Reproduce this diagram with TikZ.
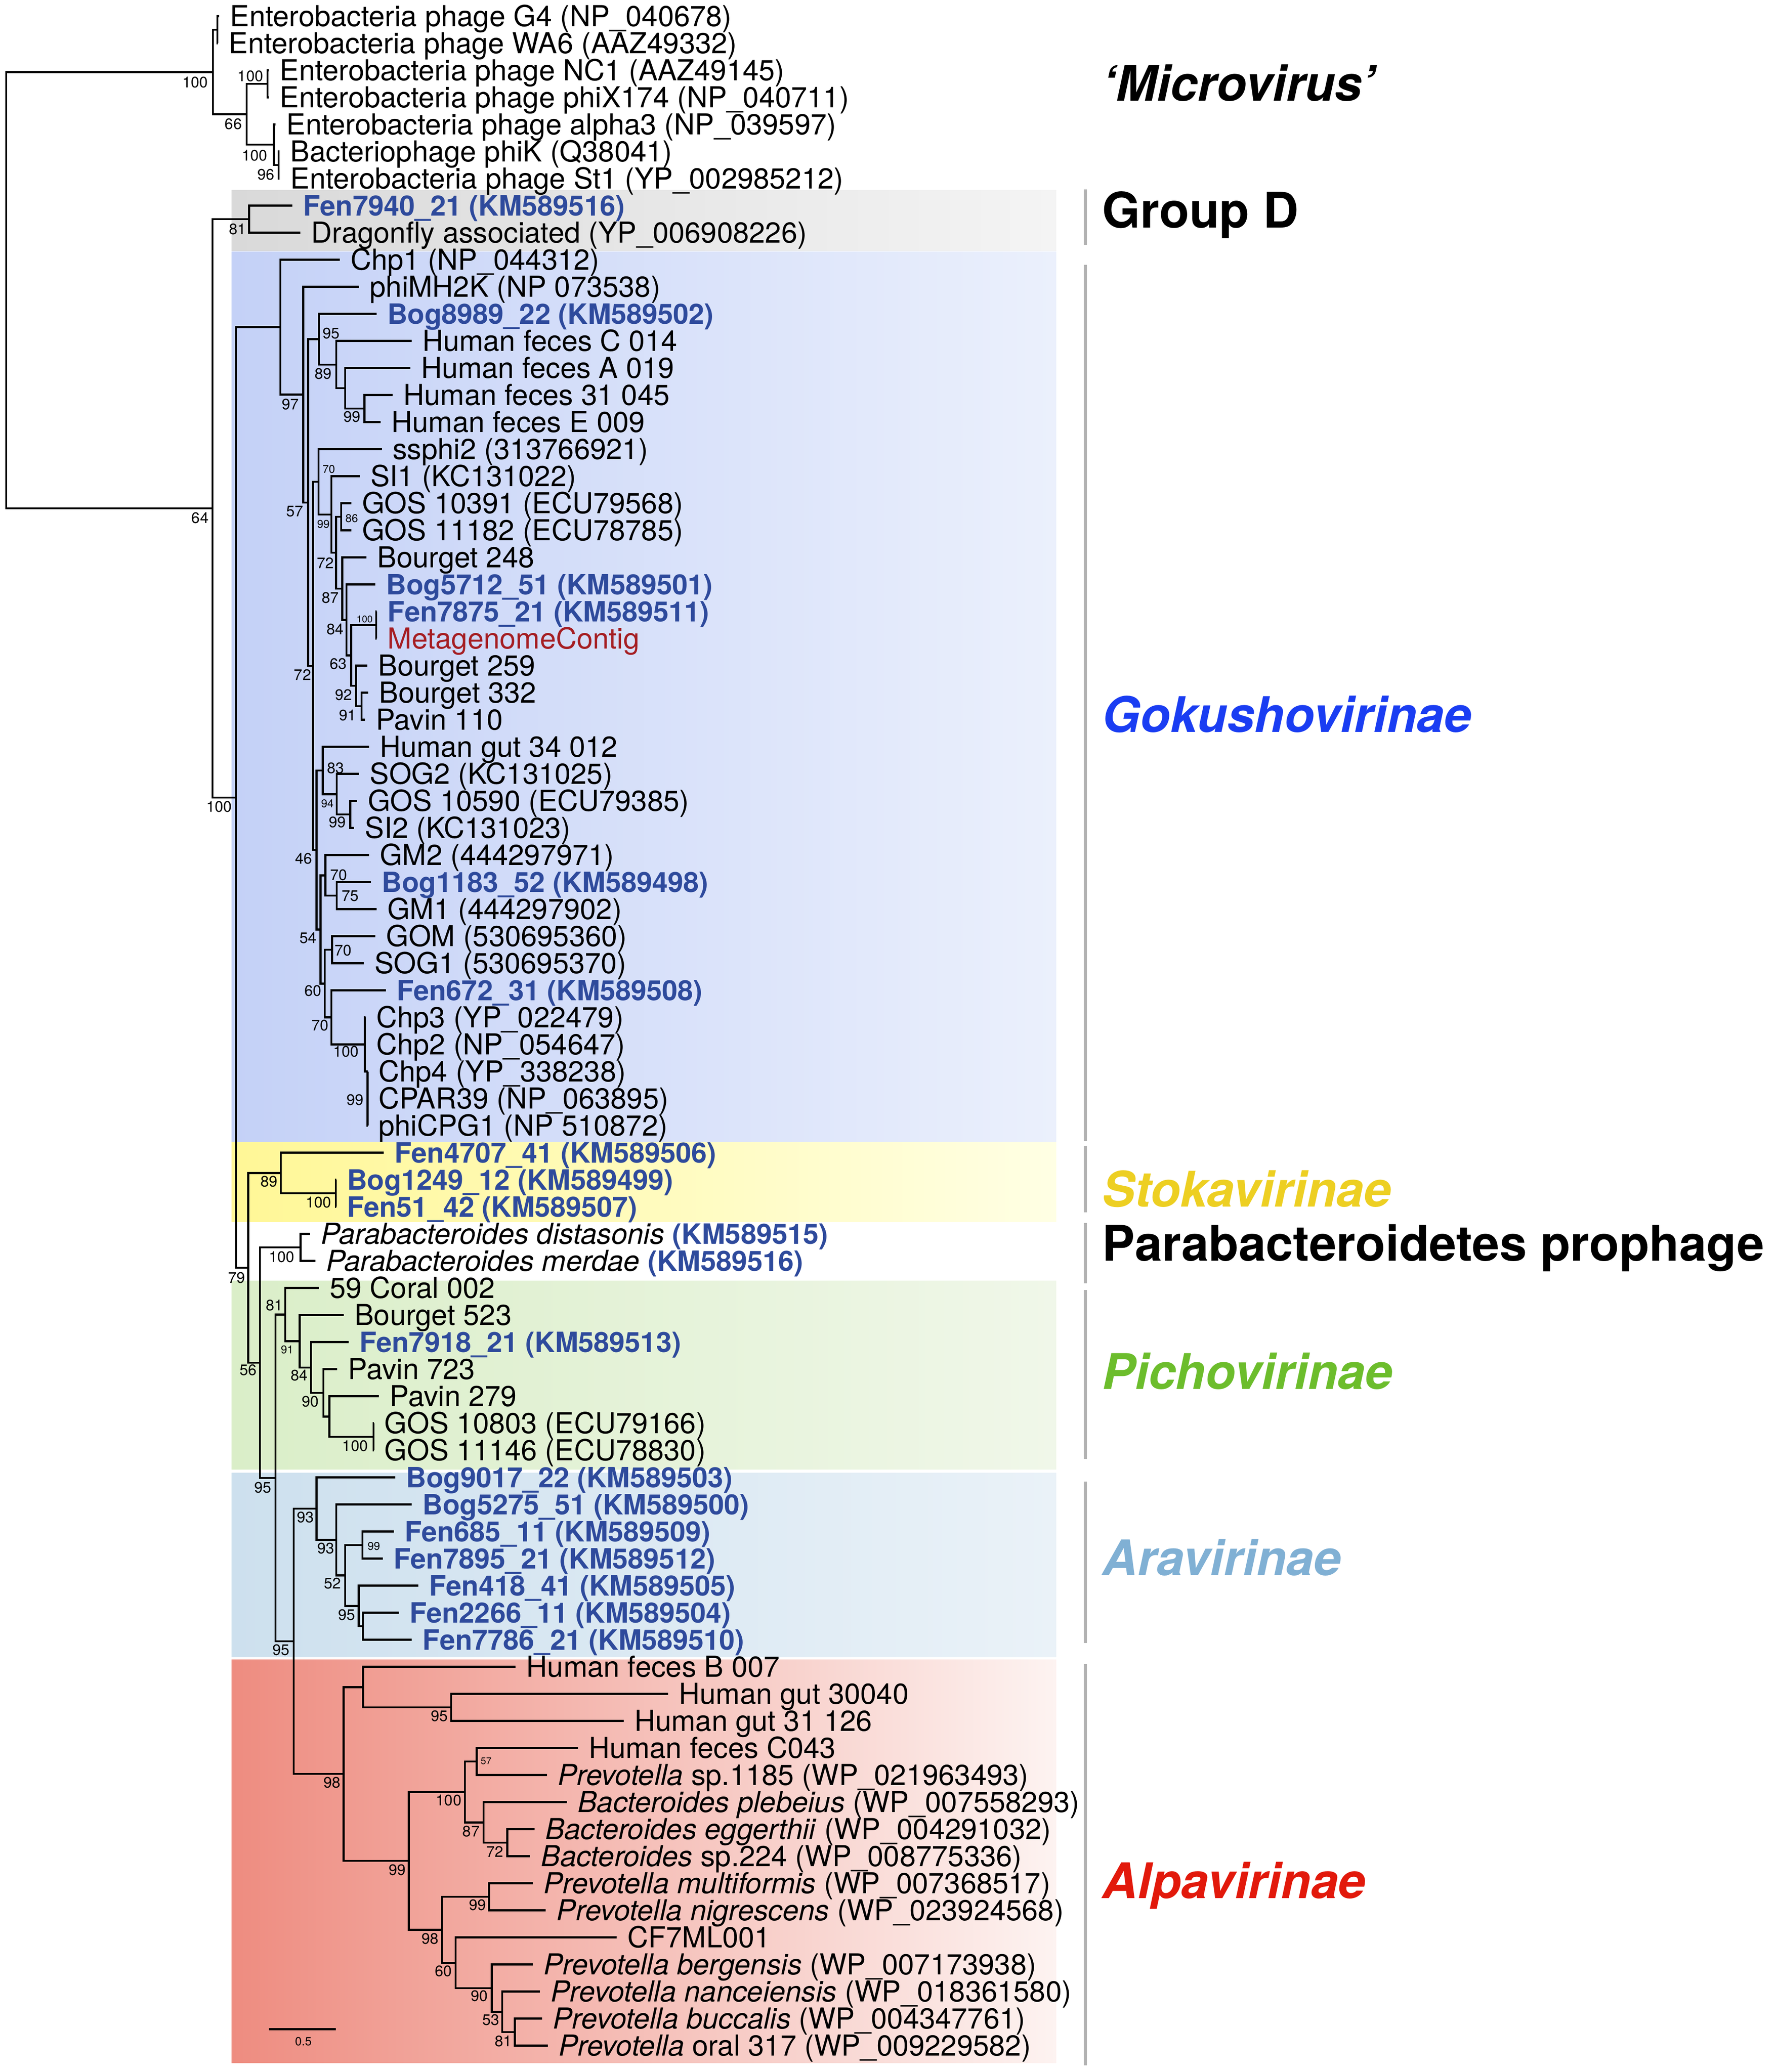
\documentclass[tikz,border=0pt]{standalone}
\usepackage{fontspec}
\setmainfont{TeX Gyre Heros}
\usetikzlibrary{calc}
\definecolor{fenblue}{HTML}{2E4A9C}
\definecolor{metared}{HTML}{A51D22}
\definecolor{gdL}{HTML}{D9D9D9}\definecolor{gdR}{HTML}{F4F4F4}
\definecolor{gkL}{HTML}{C4D1F7}\definecolor{gkR}{HTML}{EBF0FC}
\definecolor{stL}{HTML}{FFF796}\definecolor{stR}{HTML}{FFFFE4}
\definecolor{piL}{HTML}{DAEEC8}\definecolor{piR}{HTML}{F0F7E9}
\definecolor{arL}{HTML}{CDE0EE}\definecolor{arR}{HTML}{EAF2F8}
\definecolor{alL}{HTML}{EE8C80}\definecolor{alR}{HTML}{FDF3F1}
\definecolor{cGoku}{HTML}{1A3DF2}
\definecolor{cStoka}{HTML}{EDCF22}
\definecolor{cPicho}{HTML}{6CBD2C}
\definecolor{cAra}{HTML}{80B0D4}
\definecolor{cAlpa}{HTML}{E2190B}
\definecolor{barGray}{HTML}{B2B2B2}
\newcommand\bluelab[1]{{\fontsize{21.1}{26}\selectfont\bfseries\color{fenblue}#1}}
\newcommand\trnode[4]{%
  \path let \p1=(#3), \p2=(#4) in (#2,{0.5*(\y1+\y2)}) coordinate (#1);
  \draw[branch] (#1) |- (#3);
  \draw[branch] (#1) |- (#4);
}
\newcommand\tleaf[3]{%
  \coordinate (L#1) at (#2,{-(12.2+(#1-1)*20.42)});
  \node[leaflabel] (T#1) at (L#1) {#3};
}
\begin{document}
\begin{tikzpicture}[x=1pt,y=1pt,
  branch/.style={line width=1.5pt},
  leaflabel/.style={anchor=base west,inner sep=0pt,xshift=8pt,yshift=-7.8pt,font=\fontsize{21.8}{26}\selectfont},
  bsl/.style={inner sep=0pt,font=\fontsize{11.5}{13}\selectfont},
  bss/.style={inner sep=0pt,font=\fontsize{8.5}{10}\selectfont},
  bst/.style={inner sep=0pt,font=\fontsize{7.3}{9}\selectfont},
  clade/.style={anchor=base west,inner sep=0pt,font=\fontsize{37}{40}\selectfont\bfseries},
  cbar/.style={line width=2.2pt,draw=barGray}]
\fill[white] (0,0) rectangle (1339,-1563.6);
\path[use as bounding box] (0,0) rectangle (1339,-1563.6);
% backgrounds
\shade[left color=gdL,right color=gdR] (174.7,-143.5) rectangle (797,-189.2);
\shade[left color=gkL,right color=gkR] (174.7,-189.8) rectangle (797,-861.4);
\shade[left color=stL,right color=stR] (174.7,-862) rectangle (797,-922);
\shade[left color=piL,right color=piR] (174.7,-966.4) rectangle (797,-1108.9);
\shade[left color=arL,right color=arR] (174.7,-1111.5) rectangle (797,-1250.4);
\shade[left color=alL,right color=alR] (174.7,-1252.6) rectangle (797,-1556.7);
% leaves
\tleaf{1}{165.5}{Enterobacteria phage G4 (NP\_040678)}
\tleaf{2}{164.5}{Enterobacteria phage WA6 (AAZ49332)}
\tleaf{3}{203}{Enterobacteria phage NC1 (AAZ49145)}
\tleaf{4}{203}{Enterobacteria phage phiX174 (NP\_040711)}
\tleaf{5}{208}{Enterobacteria phage alpha3 (NP\_039597)}
\tleaf{6}{211}{Bacteriophage phiK (Q38041)}
\tleaf{7}{211}{Enterobacteria phage St1 (YP\_002985212)}
\tleaf{8}{220.5}{\bluelab{Fen7940\_21 (KM589516)}}
\tleaf{9}{226.7}{Dragonfly associated (YP\_006908226)}
\tleaf{10}{256.4}{Chp1 (NP\_044312)}
\tleaf{11}{270.9}{phiMH2K (NP 073538)}
\tleaf{12}{284.1}{\bluelab{Bog8989\_22 (KM589502)}}
\tleaf{13}{310.5}{Human feces C 014}
\tleaf{14}{309.5}{Human feces A 019}
\tleaf{15}{296.3}{Human feces 31 045}
\tleaf{16}{287.3}{Human feces E 009}
\tleaf{17}{288.1}{ssphi2 (313766921)}
\tleaf{18}{271.4}{SI1 (KC131022)}
\tleaf{19}{265}{GOS 10391 (ECU79568)}
\tleaf{20}{265}{GOS 11182 (ECU78785)}
\tleaf{21}{276.6}{Bourget 248}
\tleaf{22}{283.3}{\bluelab{Bog5712\_51 (KM589501)}}
\tleaf{23}{284.3}{\bluelab{Fen7875\_21 (KM589511)}}
\tleaf{24}{284.3}{\color{metared}MetagenomeContig}
\tleaf{25}{277.3}{Bourget 259}
\tleaf{26}{278}{Bourget 332}
\tleaf{27}{275.4}{Pavin 110}
\tleaf{28}{278.4}{Human gut 34 012}
\tleaf{29}{270.9}{SOG2 (KC131025)}
\tleaf{30}{269.4}{GOS 10590 (ECU79385)}
\tleaf{31}{267.2}{SI2 (KC131023)}
\tleaf{32}{278.4}{GM2 (444297971)}
\tleaf{33}{279.9}{\bluelab{Bog1183\_52 (KM589498)}}
\tleaf{34}{284.1}{GM1 (444297902)}
\tleaf{35}{283.2}{GOM (530695360)}
\tleaf{36}{274.4}{SOG1 (530695370)}
\tleaf{37}{291.1}{\bluelab{Fen672\_31 (KM589508)}}
\tleaf{38}{275.8}{Chp3 (YP\_022479)}
\tleaf{39}{275.8}{Chp2 (NP\_054647)}
\tleaf{40}{277.5}{Chp4 (YP\_338238)}
\tleaf{41}{277.5}{CPAR39 (NP\_063895)}
\tleaf{42}{277.5}{phiCPG1 (NP 510872)}
\tleaf{43}{289.6}{\bluelab{Fen4707\_41 (KM589506)}}
\tleaf{44}{253.6}{\bluelab{Bog1249\_12 (KM589499)}}
\tleaf{45}{253.6}{\bluelab{Fen51\_42 (KM589507)}}
\tleaf{46}{234}{\textit{Parabacteroides distasonis} \bluelab{(KM589515)}}
\tleaf{47}{238}{\textit{Parabacteroides merdae} \bluelab{(KM589516)}}
\tleaf{48}{240.6}{59 Coral 002}
\tleaf{49}{259.4}{Bourget 523}
\tleaf{50}{263}{\bluelab{Fen7918\_21 (KM589513)}}
\tleaf{51}{254.5}{Pavin 723}
\tleaf{52}{285.9}{Pavin 279}
\tleaf{53}{282}{GOS 10803 (ECU79166)}
\tleaf{54}{282}{GOS 11146 (ECU78830)}
\tleaf{55}{298.3}{\bluelab{Bog9017\_22 (KM589503)}}
\tleaf{56}{310.8}{\bluelab{Bog5275\_51 (KM589500)}}
\tleaf{57}{297.1}{\bluelab{Fen685\_11 (KM589509)}}
\tleaf{58}{288.8}{\bluelab{Fen7895\_21 (KM589512)}}
\tleaf{59}{315.7}{\bluelab{Fen418\_41 (KM589505)}}
\tleaf{60}{300.8}{\bluelab{Fen2266\_11 (KM589504)}}
\tleaf{61}{310.8}{\bluelab{Fen7786\_21 (KM589510)}}
\tleaf{62}{389.1}{Human feces B 007}
\tleaf{63}{504.2}{Human gut 30040}
\tleaf{64}{470.6}{Human gut 31 126}
\tleaf{65}{436.1}{Human feces C043}
\tleaf{66}{412.6}{\textit{Prevotella} sp.1185 (WP\_021963493)}
\tleaf{67}{427.8}{\textit{Bacteroides plebeius} (WP\_007558293)}
\tleaf{68}{403.2}{\textit{Bacteroides eggerthii} (WP\_004291032)}
\tleaf{69}{400.1}{\textit{Bacteroides} sp.224 (WP\_008775336)}
\tleaf{70}{402}{\textit{Prevotella multiformis} (WP\_007368517)}
\tleaf{71}{411.9}{\textit{Prevotella nigrescens} (WP\_023924568)}
\tleaf{72}{465.4}{CF7ML001}
\tleaf{73}{402}{\textit{Prevotella bergensis} (WP\_007173938)}
\tleaf{74}{407.4}{\textit{Prevotella nanceiensis} (WP\_018361580)}
\tleaf{75}{409}{\textit{Prevotella buccalis} (WP\_004347761)}
\tleaf{76}{413.3}{\textit{Prevotella} oral 317 (WP\_009229582)}
% Microvirus
\trnode{nGW}{164.0}{L1}{L2}
\trnode{nNC}{201.8}{L3}{L4}
\trnode{nKS}{210.3}{L6}{L7}
\trnode{nA3}{206.7}{L5}{nKS}
\trnode{n66}{186.2}{nNC}{nA3}
\trnode{nMic}{160.6}{nGW}{n66}
% Group D
\trnode{nGD}{187.9}{L8}{L9}
% Gokushovirinae
\trnode{n99h}{275}{L15}{L16}
\trnode{nHh}{260.5}{L14}{n99h}
\trnode{n89}{253.7}{L13}{nHh}
\trnode{n95}{240.7}{L12}{n89}
\trnode{nGOS}{257.5}{L19}{L20}
\trnode{nFM}{283.9}{L23}{L24}
\trnode{nBP2}{272.9}{L26}{L27}
\trnode{nBP}{268.7}{L25}{nBP2}
\trnode{nM}{265}{nFM}{nBP}
\trnode{nBog}{261.5}{L22}{nM}
\trnode{nBo}{258.2}{L21}{nBog}
\trnode{nG}{253.5}{nGOS}{nBo}
\trnode{nF}{250}{L18}{nG}
\trnode{nSs}{240.3}{L17}{nF}
\trnode{nGS}{264.2}{L30}{L31}
\trnode{nSOG}{254}{L29}{nGS}
\trnode{nHG}{243.6}{L28}{nSOG}
\trnode{nBG}{254}{L33}{L34}
\trnode{nGM}{245.5}{L32}{nBG}
\trnode{nGO}{250.5}{L35}{L36}
\coordinate (nChpIn) at ($(L40)+(-0.2,0)$);
\draw[branch] (nChpIn) |- (L40);
\draw[branch] (nChpIn) |- (L41);
\draw[branch] (nChpIn) |- (L42);
\path let \p1=(L38), \p2=(nChpIn) in (275.4,{0.5*(\y1+\y2)}) coordinate (nChp);
\draw[branch] (nChp) |- (L38);
\draw[branch] (nChp) |- (L39);
\draw[branch] (nChp) |- (nChpIn);
\trnode{nE}{250}{L37}{nChp}
\trnode{nD}{245}{nGO}{nE}
\trnode{nC}{241.8}{nGM}{nD}
\trnode{nB}{238.8}{nHG}{nC}
\trnode{nA}{236.2}{nSs}{nB}
\trnode{n57}{232.5}{n95}{nA}
\trnode{n97}{228.8}{L11}{n57}
\trnode{nGoku}{211.5}{L10}{n97}
% Stokavirinae
\trnode{nBF}{253.4}{L44}{L45}
\trnode{nSto}{211.9}{L43}{nBF}
% Parabacteroidetes
\trnode{nPar}{226.8}{L46}{L47}
% Pichovirinae
\trnode{nGOS2}{281.8}{L53}{L54}
\trnode{nP279}{248.5}{L52}{nGOS2}
\trnode{nP723}{244}{L51}{nP279}
\trnode{nF79}{234.6}{L50}{nP723}
\trnode{nB523}{226.1}{L49}{nF79}
\trnode{nPic}{215.2}{L48}{nB523}
% Aravirinae
\trnode{nF68}{273.5}{L57}{L58}
\trnode{nF22}{273.9}{L60}{L61}
\trnode{nF41}{270.6}{L59}{nF22}
\trnode{n52}{260.5}{nF68}{nF41}
\trnode{nB52}{253.7}{L56}{n52}
\trnode{nAra}{238.8}{L55}{nB52}
% Alpavirinae
\trnode{nHG95}{340.4}{L63}{L64}
\trnode{nHFB}{274}{L62}{nHG95}
\trnode{n57a}{359.7}{L65}{L66}
\trnode{n72a}{382.7}{L68}{L69}
\trnode{n87a}{364.9}{L67}{n72a}
\trnode{n100a}{350.8}{n57a}{n87a}
\trnode{n99m}{369.1}{L70}{L71}
\trnode{n81a}{388.4}{L75}{L76}
\trnode{n53a}{379}{L74}{n81a}
\trnode{n90a}{371}{L73}{n53a}
\trnode{n60a}{343.7}{L72}{n90a}
\trnode{n98a}{333.4}{n99m}{n60a}
\trnode{n99a}{308.5}{n100a}{n98a}
\trnode{nAlp}{259.2}{nHFB}{n99a}
% backbone
\trnode{nAr95}{221.6}{nAra}{nAlp}
\trnode{n95b}{207.9}{nPic}{nAr95}
\trnode{n56}{196.2}{nPar}{n95b}
\trnode{n79}{187.3}{nSto}{n56}
\trnode{n100}{178}{nGoku}{n79}
\trnode{n64}{160.4}{nGD}{n100}
\trnode{nRoot}{4.7}{nMic}{n64}
% bootstrap values
\node[bsl] (b1) at (147.3,-62.1) {100};
\node[bsl] (b2) at (189,-57.6) {100};
\node[bsl] (b3) at (176.1,-93.5) {66};
\node[bsl] (b4) at (192.2,-117.2) {100};
\node[bsl] (b5) at (200.7,-131.9) {96};
\node[bsl] (b6) at (179.3,-172.9) {81};
\node[bsl] (b7) at (151,-391) {64};
\node[bsl] (b8) at (165.3,-608.6) {100};
\node[bsl] (b9) at (219.1,-305.1) {97};
\node[bsl] (b10) at (250,-251.7) {95};
\node[bsl] (b11) at (244,-282.1) {89};
\node[bsl] (b12) at (265.7,-314.5) {99};
\node[bsl] (b13) at (222.4,-385.8) {57};
\node[bss] (b14) at (248.1,-354.1) {70};
\node[bss] (b15) at (244,-395.6) {99};
\node[bss] (b16) at (265.4,-391.1) {86};
\node[bsl] (b17) at (245.5,-424.9) {72};
\node[bsl] (b18) at (249.3,-451) {87};
\node[bsl] (b19) at (253,-474.9) {84};
\node[bst] (b20) at (275.1,-467.4) {100};
\node[bsl] (b21) at (255.2,-501.1) {63};
\node[bsl] (b22) at (228.3,-509.3) {72};
\node[bsl] (b23) at (259.4,-524.5) {92};
\node[bsl] (b24) at (262.4,-539.9) {91};
\node[bsl] (b25) at (253.4,-579.5) {83};
\node[bss] (b26) at (247,-606.4) {94};
\node[bsl] (b27) at (254.5,-620.6) {99};
\node[bsl] (b28) at (229.1,-647.8) {46};
\node[bsl] (b29) at (255.7,-660.2) {70};
\node[bsl] (b30) at (264.2,-676.2) {75};
\node[bsl] (b31) at (232.5,-707.7) {54};
\node[bsl] (b32) at (259,-717.3) {70};
\node[bsl] (b33) at (236.1,-747.8) {60};
\node[bsl] (b34) at (241.5,-773.9) {70};
\node[bsl] (b35) at (261.2,-793.6) {100};
\node[bsl] (b36) at (267.9,-830) {99};
\node[bsl] (b37) at (202.9,-891.6) {89};
\node[bsl] (b38) at (240.3,-907.2) {100};
\node[bsl] (b39) at (212.6,-948.5) {100};
\node[bsl] (b40) at (178.6,-964.4) {79};
\node[bsl] (b41) at (207.1,-984.9) {81};
\node[bss] (b42) at (216.7,-1018.5) {91};
\node[bsl] (b43) at (187.3,-1033.9) {56};
\node[bsl] (b44) at (225.8,-1037.8) {84};
\node[bsl] (b45) at (234.3,-1057.8) {90};
\node[bsl] (b46) at (268,-1091.1) {100};
\node[bsl] (b47) at (198.5,-1122.7) {95};
\node[bsl] (b48) at (230.6,-1145) {93};
\node[bsl] (b49) at (246,-1168.6) {93};
\node[bss] (b50) at (282.1,-1166.7) {99};
\node[bsl] (b51) at (251,-1195) {52};
\node[bsl] (b52) at (261.5,-1218.6) {95};
\node[bsl] (b53) at (212.2,-1245.2) {95};
\node[bsl] (b54) at (250.5,-1345.3) {98};
\node[bsl] (b55) at (331.5,-1295.1) {95};
\node[bst] (b56) at (366.8,-1328.9) {57};
\node[bsl] (b57) at (338.6,-1358.7) {100};
\node[bsl] (b58) at (355.5,-1382.1) {87};
\node[bsl] (b59) at (373.3,-1397.2) {72};
\node[bsl] (b60) at (299.8,-1411.1) {99};
\node[bsl] (b61) at (360.4,-1437.5) {99};
\node[bsl] (b62) at (324.5,-1463) {98};
\node[bsl] (b63) at (334.6,-1487.3) {60};
\node[bsl] (b64) at (361.6,-1506.3) {90};
\node[bsl] (b65) at (370.3,-1524.3) {53};
\node[bsl] (b66) at (379.7,-1540.5) {81};
% scale bar
\coordinate (sb1) at (202.8,-1531.3);
\coordinate (sb2) at (253.5,-1531.3);
\draw[line width=1.6pt] (sb1) -- (sb2);
\node[inner sep=0pt,font=\fontsize{9}{11}\selectfont] (sbl) at (228.9,-1540.5) {0.5};
% clade bars
\draw[cbar] (819,-143) -- (819,-184.7);
\draw[cbar] (819,-199.9) -- (819,-861);
\draw[cbar] (819,-864.5) -- (819,-914.9);
\draw[cbar] (819,-923) -- (819,-968.3);
\draw[cbar] (819,-973.5) -- (819,-1100.9);
\draw[cbar] (819,-1118) -- (819,-1240);
\draw[cbar] (819,-1255.5) -- (819,-1558.5);
% clade labels
\node[clade] (cMic) at (831.6,-76) {\itshape ‘Microvirus’};
\node[clade] (cGD) at (831.6,-171.8) {Group D};
\node[clade,text=cGoku] (cGok) at (831.6,-552.5) {\itshape Gokushovirinae};
\node[clade,text=cStoka] (cSto) at (831.6,-910.6) {\itshape Stokavirinae};
\node[clade] (cPar) at (831.6,-951.4) {Parabacteroidetes prophage};
\node[clade,text=cPicho] (cPic) at (831.6,-1048.4) {\itshape Pichovirinae};
\node[clade,text=cAra] (cAra) at (831.6,-1189) {\itshape Aravirinae};
\node[clade,text=cAlpa] (cAlp) at (831.6,-1432.6) {\itshape Alpavirinae};
\end{tikzpicture}
\end{document}
